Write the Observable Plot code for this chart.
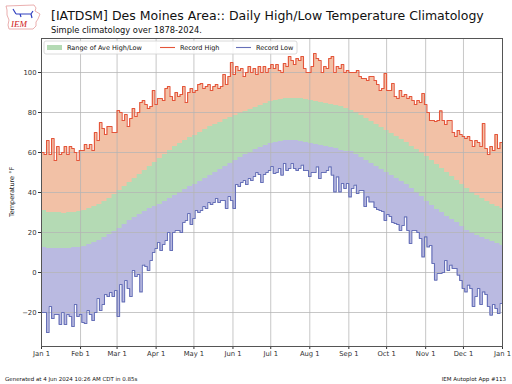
<!DOCTYPE html>
<html><head><meta charset="utf-8">
<script src="https://cdn.jsdelivr.net/npm/d3@7"></script>
<script src="https://cdn.jsdelivr.net/npm/@observablehq/plot@0.6"></script>
<style>body{margin:0;background:#fff;} #chart{position:relative;width:512px;height:384px;}</style>
</head><body><div id="chart"></div>
<script>
// Record values sampled every 2 days from Jan 1 (day-of-year 0,2,...,364)
const recordStep = 2;
const recordHigh = [60,59,66,59,67,56,63,59,60,63,59,63,62,60,56,61,61,64,62,64,61,70,66,75,72,69,73,73,70,70,81,80,76,79,73,77,82,78,80,85,86,84,82,83,91,84,87,87,86,92,93,88,86,90,88,89,93,85,90,92,90,91,94,94.5,92,93,94,91,93,94,92,93,99,94,98,105,99,103,101,102,98,100,103,100,102,99,103,100,103,100,102,104,102,104,101,100,104.5,103,108,106,104,107,106,108,102,100,100,103,109.5,107,106,100,103,102,107,108,100,103,102,104,100,101,100,100,100,101,98,97,97,96,98,98,96,94,91,92,99.5,91,91,94.5,88,87,91,88,89,87,88,86,84,86,85,89.5,84,80,76,76,75.5,76,80.8,76,74,76,76,70,68,71,69,68,67,68,66,63,66,65,63,74.5,62,59,63,61,69,62,65];
const recordLow = [-20,-20,-30,-17,-23,-21,-21,-26,-20,-26,-21,-22,-27,-16,-22,-21,-25,-25.5,-19,-21,-24,-20,-13,-19,-16,-11,-12,-10,-12,-9,-22,-6,-14.7,-4,-8,-12,1,-2,-1,-9.7,3.7,3,1,6,10,12,15,11,14,16,20,11,20,21,21,20,25,26,29.5,24,27,31,30,31,33,32,35,34,35,37,35,36,36,32,38,36,32,44,43,45,46,44,47,46,48,50,49,45,49,50,51,53,49.5,50,52,48.7,54.5,51,52,54.5,52,51,52,53.7,51,51,48,50,50,52.8,47,50,50,51,52.8,48.7,40.3,47.8,40.3,44.5,42,44.5,37.8,42,43.7,39.5,41,41,33,37.8,35.3,35.3,32.5,31.5,31,30.5,26,29,28,25,24.5,24,21,23.5,27.8,21,14.5,21,21,20,17,7.8,17.8,12.8,13.5,4.5,-3.8,-0.5,-0.5,0,6,1,3.7,2,2,-1.3,-4,-8,-9.7,-6.3,-8,-17,-12,-8,-16,-9.7,-11,-17,-21.3,-16,-18,-20.5,-15.5];
// Average values sampled every 4 days from Jan 1 (day-of-year 0,4,...,364)
const aveStep = 4;
const aveHigh = [31,30,30,30,29.5,30,30,30.5,31,32,33,34,35.5,37,39,41,43,45,47,49,51,53,55,57,59,61,63,64.5,66,67.5,68.5,70,71.5,73,74,75,76.5,77.5,78.5,79.5,80.5,81.5,82.5,83.5,84.5,85.5,86,86.5,87,87,87,87,86.5,86,85.5,85,84.5,84,83.5,83,82,81,80,78.5,77,75.5,74,72.5,71,69.5,68,66.5,65,63,61.5,60,58,56,54,52,50,48,46,44,42,40,38.5,37,35.5,34,33,32];
const aveLow = [12.5,12,12,12,12,12,12.5,12.5,13,14,15,16,17.5,19,20.5,22,24,26,27.5,29,30.5,32,33,34,35.5,37,38.5,40,41.5,43,44,45.5,47,48.5,50,51.5,53,54.5,56,57.5,59,60,61.5,62.5,63.5,64.5,65,65.5,66,66,66,65.5,65,64.5,64,63.5,63,62.5,62,61,60.5,60.5,59,57.5,56,54.5,53,51.5,50,48.5,47,45.5,44,42,40,38,35.5,33.5,31.5,30,28,26.5,25,23,21,19.5,18.5,17.5,16.5,15.5,14.5,13.5];
const yTicks = [-20,0,20,40,60,80,100];
const yMin = -37, yMax = 117;

const start = Date.UTC(2024,0,1);
const end = Date.UTC(2025,0,1);
const toRows = (step, cols) => {
  const n = cols[Object.keys(cols)[0]].length;
  const r = d3.range(n).map(i => {
    const o = {date:new Date(start + i*step*864e5)};
    for (const k in cols) o[k] = cols[k][i];
    return o;
  });
  r.push({...r[n-1], date:new Date(end)});
  return r;
};
const recRows = toRows(recordStep, {rh:recordHigh, rl:recordLow});
const aveRows = toRows(aveStep, {ah:aveHigh, al:aveLow});
const monthDates = d3.utcMonth.range(new Date(start), new Date(end + 864e5));

const grid = {stroke:"#b4b4b4", strokeWidth:1, strokeOpacity:0.75};
const plot = Plot.plot({
  width:512, height:384,
  marginLeft:41, marginRight:10, marginTop:38, marginBottom:38,
  style:{fontFamily:"DejaVu Sans", fontSize:"6.8px", background:"#fff", color:"#333", overflow:"visible"},
  x:{type:"utc", domain:[new Date(start), new Date(end)], ticks:monthDates, tickFormat:d3.utcFormat("%b %-d"), tickSize:3, tickPadding:2, label:null},
  y:{domain:[yMin,yMax], ticks:yTicks, tickSize:3, tickPadding:2, label:null, tickFormat:d=> d<0 ? "\u2212"+(-d) : String(d)},
  marks:[
    Plot.areaY(recRows,{x:"date", y1:yMin, y2:"rh", curve:"step-after", fill:"#f2c1a6"}),
    Plot.areaY(aveRows,{x:"date", y1:yMin, y2:"ah", curve:"step-after", fill:"#b4dab4"}),
    Plot.areaY(aveRows,{x:"date", y1:yMin, y2:"al", curve:"step-after", fill:"#babae1"}),
    Plot.areaY(recRows,{x:"date", y1:yMin, y2:"rl", curve:"step-after", fill:"#ffffff"}),
    Plot.ruleX(monthDates, grid),
    Plot.ruleY(yTicks, grid),
    Plot.lineY(recRows,{x:"date", y:"rh", curve:"step-after", stroke:"#e4553a", strokeWidth:1.1}),
    Plot.lineY(recRows,{x:"date", y:"rl", curve:"step-after", stroke:"#6670b8", strokeWidth:1.1}),
    Plot.frame({stroke:"#555", strokeWidth:1})
  ]
});
document.getElementById("chart").appendChild(plot);
const svg = d3.select(plot);
const ff = "DejaVu Sans";
const txt = (x,y,s,size,anchor="start") => svg.append("text").attr("x",x).attr("y",y).attr("text-anchor",anchor).attr("font-family",ff).attr("font-size",size).attr("fill","#111").text(s);
// Title and subtitle
txt(51,20,"[IATDSM] Des Moines Area:: Daily High/Low Temperature Climatology",12.5);
txt(51,33,"Simple climatology over 1878-2024.",8.3);
// Y label
svg.append("text").attr("transform","translate(14,192) rotate(-90)").attr("text-anchor","middle").attr("font-family",ff).attr("font-size",6.5).attr("fill","#222").text("Temperature \u00b0F");
// Footer
txt(5,381,"Generated at 4 Jun 2024 10:26 AM CDT in 0.85s",5.5);
txt(506,381,"IEM Autoplot App #113",5.5,"end");
// Legend
const lg = svg.append("g");
lg.append("rect").attr("x",44).attr("y",41).attr("width",253).attr("height",13).attr("rx",2).attr("fill","#fff").attr("fill-opacity",0.85).attr("stroke","#d0d0d0").attr("stroke-width",0.8);
lg.append("rect").attr("x",47).attr("y",45).attr("width",15).attr("height",5).attr("fill","#b4dab4");
lg.append("line").attr("x1",160).attr("x2",175).attr("y1",47.5).attr("y2",47.5).attr("stroke","#e4553a").attr("stroke-width",1.1);
lg.append("line").attr("x1",236).attr("x2",251).attr("y1",47.5).attr("y2",47.5).attr("stroke","#6670b8").attr("stroke-width",1.1);
txt(67,49.8,"Range of Ave High/Low",6.5);
txt(180,49.8,"Record High",6.5);
txt(256,49.8,"Record Low",6.5);
// Logo (IEM)
const logo = svg.append("g");
logo.append("path").attr("d","M6,6 L34,5 L36,8 L35,11 L40,14 L38,19 L36,22 L36,26 L33,29 L9,29 L8,25 L9,20 L7,15 L7,10 Z").attr("fill","#fff").attr("stroke","#e59a9a").attr("stroke-width",0.8);
logo.append("path").attr("d","M13,9 L16,14 M16,14 L31,14 M31,14 L33,11 M31,14 L32,18 M20,14 L21,17").attr("stroke","#3040c0").attr("stroke-width",1.2).attr("fill","none");
logo.append("text").attr("x",11).attr("y",27).attr("text-anchor","start").attr("font-family","Liberation Serif").attr("font-style","italic").attr("font-size",9).attr("fill","#d02020").text("IEM");
</script></body></html>
